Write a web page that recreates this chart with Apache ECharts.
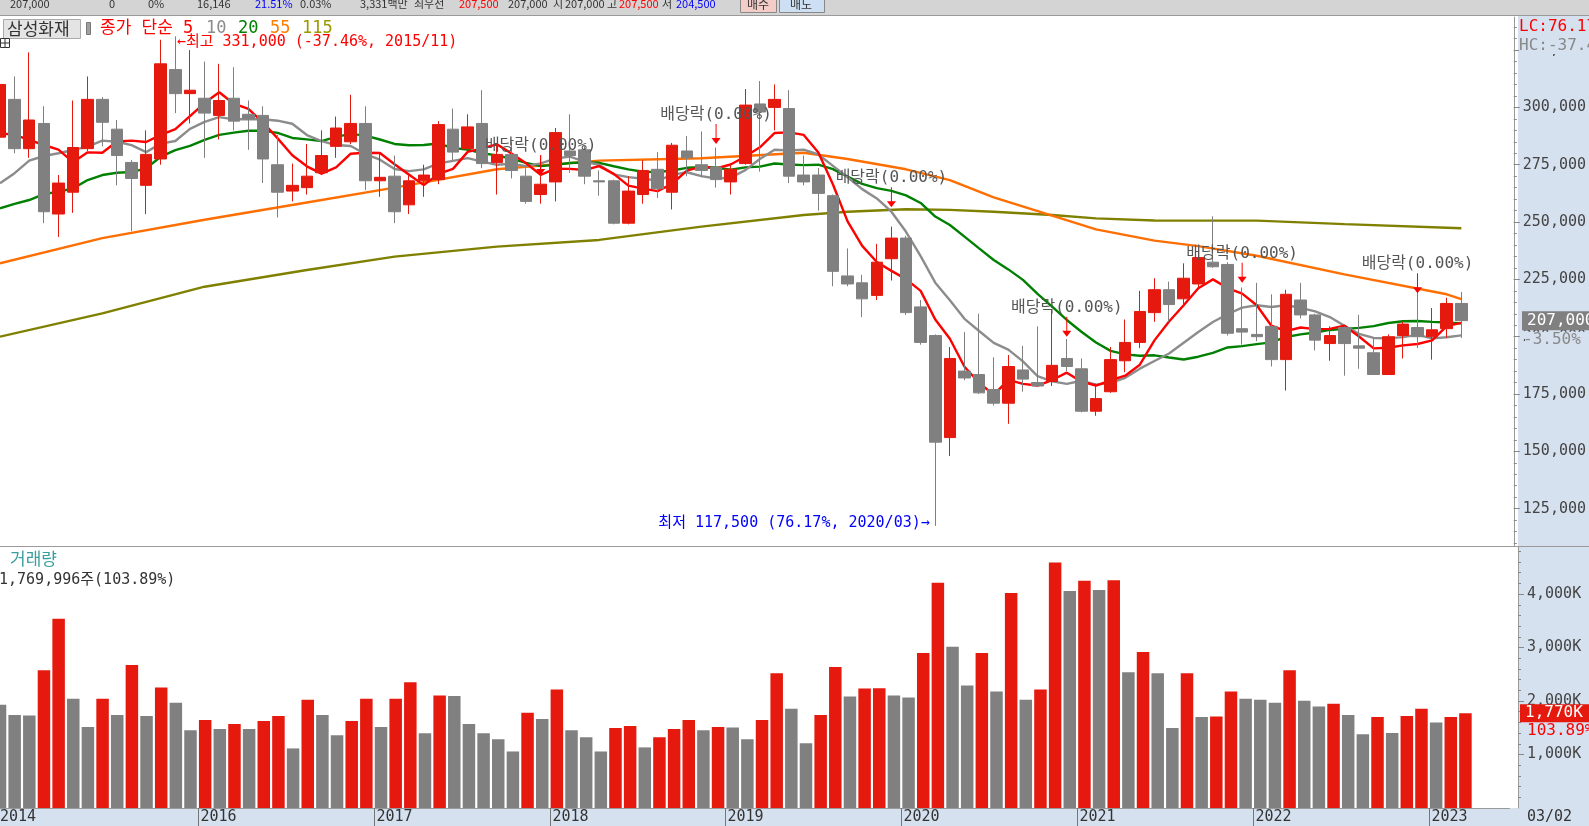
<!DOCTYPE html>
<html>
<head>
<meta charset="utf-8">
<title>삼성화재 월봉</title>
<script src="https://cdn.jsdelivr.net/npm/echarts@6/dist/echarts.min.js"></script>
<style>
  html, body { margin: 0; padding: 0; background: #fff; }
  #main { width: 1589px; height: 826px; }
</style>
</head>
<body>
<div id="main"></div>
<script>
// 월봉 2014/11 ~ 2023/03
const startYear = 2014, startMonth = 11;

const opens = [287000,303500,282000,293000,253500,263000,282000,303500,290500,276000,
  266000,277500,316500,306000,304000,296500,304000,297000,296500,275000,
  263500,265000,271500,283000,285000,293000,268000,270000,257500,268000,
  268500,290500,282000,293000,276000,279500,270000,262000,267500,281000,
  281500,268000,268000,249500,262000,273000,263000,281000,275000,274000,
  267500,275500,301500,300000,299500,270500,270500,261500,226500,223500,
  218000,234000,243000,213000,200500,156000,185000,183500,177000,171000,
  185500,180000,180500,190500,186000,167500,176000,189500,197500,210500,
  220500,216500,223000,232500,231500,203500,201000,204500,190000,216000,
  209500,197000,204000,196000,193000,183500,200500,204000,200000,203500,
  214500];
const closes = [310000,282000,294500,254500,267000,282500,303500,293500,279000,269000,
  279500,319000,306000,307500,297500,303000,294000,295000,277500,263000,
  266000,270000,279000,291000,293000,268000,269500,254500,268000,270500,
  292500,280500,291500,275500,279500,272500,259000,266500,289000,279000,
  270000,267500,249500,263500,272500,264500,283500,278000,272500,268500,
  273000,301000,298000,303500,270000,267500,262500,228500,223000,216500,
  232500,243000,210500,197500,154000,190500,182000,175500,171000,187000,
  181500,178500,187500,187000,167500,173000,190000,197500,211000,220500,
  214000,225500,234500,230500,201500,202000,200000,190000,218500,209500,
  198500,200500,197000,195000,183500,200000,205500,200000,203000,214500,
  207000];
const lows = [284000,280000,278000,249500,243500,254000,281000,283000,266000,246000,
  253500,275000,297500,293000,278000,286000,290000,281500,267000,252000,
  259000,262000,270500,278000,284000,264000,261000,249500,253500,261000,
  266500,277000,281000,273500,262000,269000,258000,258000,259000,271500,
  266500,261500,249000,249000,258000,260500,255500,270000,269500,265000,
  262000,275000,272000,290000,267000,266000,255000,222000,222000,208500,
  216000,224500,209500,196500,117500,148000,181000,175000,170000,162000,
  176000,178000,178500,185000,167000,165500,175500,184500,195000,206500,
  206500,213000,221500,230000,200500,196500,198000,187000,176500,208000,
  194000,189500,183000,186000,183500,183500,190500,195000,190000,199500,
  199500];
const highs = [312000,313500,324000,300500,270500,303000,313500,304500,294500,277000,
  290000,329500,331000,325000,320000,319000,317500,303000,300500,288000,
  275500,284000,290000,296000,305500,300500,280000,279000,270500,275000,
  294000,299500,297000,307500,284500,285000,273500,279000,291000,297000,
  283000,272500,268500,270000,277000,280500,284500,287500,289500,282500,
  275500,308000,311500,310000,307500,279000,273500,262000,238500,227000,
  240500,248000,244000,216000,201000,195500,202000,210000,191000,192000,
  196000,204500,211500,199000,190500,179500,195500,207500,220000,225500,
  224000,232000,238000,252500,232500,221500,223500,218500,220500,223500,
  210000,204500,204500,209500,199000,201000,206500,220500,212500,217000,
  219500];
const volumes = [1931000,1741000,1730000,2577000,3538000,2045000,1513000,2045000,1741000,2672000,
  1722000,2254000,1969000,1456000,1646000,1475000,1570000,1475000,1627000,1722000,
  1114000,2026000,1741000,1361000,1627000,2045000,1513000,2045000,2349000,1399000,
  2102000,2095000,1570000,1399000,1285000,1057000,1779000,1665000,2216000,1456000,
  1323000,1057000,1494000,1532000,1133000,1323000,1475000,1646000,1456000,1513000,
  1505000,1285000,1646000,2520000,1855000,1209000,1741000,2634000,2083000,2235000,
  2240000,2102000,2064000,2900000,4210000,3014000,2292000,2900000,2178000,4020000,
  2026000,2216000,4590000,4058000,4248000,4077000,4260000,2539000,2919000,2520000,
  1494000,2520000,1703000,1710000,2178000,2045000,2026000,1969000,2577000,2007000,
  1900000,1950000,1741000,1380000,1703000,1400000,1720000,1855000,1600000,1703000,
  1769996];

// 화면 왼쪽 끝, 이전 데이터가 없는 구간의 이평값
const ma5Head = [288700,288000,285800,283600];
const ma10Head = [266900,271300,276800,278800,280000,281400,282900,285500,285000];
const ma20Head = [256000,257900,259600,262200,263200,264700,268300,270500,271500,271800,
  273400,278500,281400,283200,285800,288000,289000,289800,289800];
// 55, 115 이평은 차트에서 읽은 값 (봉 번호, 값)
const ma55Idx = [0,7,14,21,27,34,41,48,55,58,62,65,68,72,75,79,82,86,92,99,100];
const ma55Val = [232000,243000,251000,258500,265000,273000,276800,277800,280200,277500,
  273000,268300,260800,252800,246800,241900,239500,235300,227200,218500,216400];
const ma115Idx = [0,7,14,21,27,34,41,48,55,58,62,65,68,72,75,79,86,92,100];
const ma115Val = [200000,210200,221800,229100,234900,239300,242200,248000,253100,254500,
  255600,255300,254500,253100,251600,250700,250600,249100,247300];

const priceLabels = [125000,150000,175000,200000,225000,250000,275000,300000,325000];
const volLabels = [1000000,2000000,3000000,4000000];
const exDivIdx = [37,49,61,73,85,97];
const exDivTip = [270500,284000,256500,200000,223500,219000];

const FONT = '"Noto Sans CJK KR", "Noto Sans", sans-serif';
const MONO = '"DejaVu Sans Mono", "Noto Sans CJK KR", monospace';
const RED = '#e5190e', GRAY = '#808080', PANEL = '#d6e1f0';
const PRICE_MIN = 108720, PRICE_MAX = 339420, VOL_MAX = 4880000;

const months = closes.map((_, i) => {
  const k = startMonth - 1 + i;
  return (startYear + Math.floor(k / 12)) + '/' + String(k % 12 + 1).padStart(2, '0');
});
const categories = months.concat([' ', '  ', '   ']);

function sma(n, head) {
  return closes.map((c, i) => {
    if (i < n - 1) return head[i];
    let s = 0;
    for (let k = i - n + 1; k <= i; k++) s += closes[k];
    return Math.round(s / n);
  });
}
const fmt = v => Number(v).toLocaleString('en-US');

const minorPrice = [];
for (let v = 110000; v <= 335000; v += 5000) minorPrice.push(v);
const minorVol = [];
for (let v = 200000; v <= 4800000; v += 200000) minorVol.push(v);

const candleData = closes.map((c, i) => [opens[i], c, lows[i], highs[i]]);
const volData = volumes.map((v, i) => ({
  value: v,
  itemStyle: { color: i > 0 && v > volumes[i - 1] ? RED : GRAY }
}));

const ARROW = 'path://M4,0L5,0L5,14L9,14L4.5,20L0,14L4,14Z';
const markData = exDivIdx.map((x, k) => ({
  coord: [months[x], exDivTip[k]],
  symbol: ARROW, symbolSize: [9, 20], symbolOffset: [0, '-50%'],
  itemStyle: { color: '#ff0000' },
  label: { show: true, position: 'top', distance: 1, formatter: '배당락(0.00%)',
    color: '#555', fontSize: 16, fontFamily: MONO }
}));
markData.push({
  coord: [months[12], 331000], symbol: 'rect', symbolSize: 1,
  itemStyle: { color: 'rgba(0,0,0,0)' },
  label: { show: true, position: 'right', distance: 1, offset: [0, 6],
    formatter: '←최고 331,000 (-37.46%, 2015/11)', color: '#ff0000', fontSize: 15, fontFamily: MONO }
});
markData.push({
  coord: [months[64], 117500], symbol: 'rect', symbolSize: 1,
  itemStyle: { color: 'rgba(0,0,0,0)' },
  label: { show: true, position: 'left', distance: 5, offset: [0, -3],
    formatter: '최저 117,500 (76.17%, 2020/03)→', color: '#0000ff', fontSize: 15, fontFamily: MONO }
});

function text(id, x, y, str, fill, size, family) {
  return { type: 'text', id: id, x: x, y: y, z: 100, silent: true,
    style: { text: str, fill: fill, font: size + 'px ' + (family || FONT),
      textVerticalAlign: 'middle', verticalAlign: 'middle' } };
}
function rect(id, x, y, w, h, fill, stroke, z) {
  return { type: 'rect', id: id, z: z === undefined ? 99 : z, silent: true,
    shape: { x: x, y: y, width: w, height: h },
    style: { fill: fill, stroke: stroke || null, lineWidth: 1 } };
}

const graphics = [
  rect('bgRight', 1518, 16, 71, 810, PANEL, null, -1),
  rect('bgBottom', 0, 808, 1518, 18, PANEL, null, -1),
  rect('topBar', 0, 0, 1589, 16, '#d4d4d4', null, 98),
  rect('topLine', 0, 15, 1589, 1, '#9a9a9a', null, 99),
  rect('sep', 0, 546, 1589, 1, '#9a9a9a', null, 99),
  rect('btnBuy', 740.5, -2.5, 36, 15, '#f4cdc9', '#888'),
  rect('btnSell', 779.5, -2.5, 45, 15, '#cddff2', '#888'),
  text('t1', 10, 4, '207,000', '#333', 11),
  text('t2', 109, 4, '0', '#333', 11),
  text('t3', 148, 4, '0%', '#333', 11),
  text('t4', 197, 4, '16,146', '#333', 11),
  text('t5', 255, 4, '21.51%', '#0000ff', 11),
  text('t6', 300, 4, '0.03%', '#333', 11),
  text('t7', 360, 4, '3,331백만', '#333', 11),
  text('t8', 414, 4, '최우선', '#333', 11),
  text('t9', 459, 4, '207,500', '#ff0000', 11),
  text('t10', 508, 4, '207,000', '#333', 11),
  text('t11', 553, 4, '시', '#333', 11),
  text('t12', 565, 4, '207,000', '#333', 11),
  text('t13', 607, 4, '고', '#333', 11),
  text('t14', 619, 4, '207,500', '#ff0000', 11),
  text('t15', 662, 4, '저', '#333', 11),
  text('t16', 676, 4, '204,500', '#0000ff', 11),
  text('t17', 747, 4, '매수', '#333', 12),
  text('t18', 790, 4, '매도', '#333', 12),
  // 범례
  rect('nameBox', 3.5, 19.5, 77, 19, '#e4e4e4', '#aaa'),
  text('name', 7, 29, '삼성화재', '#333', 17),
  rect('nameIcon', 86.5, 22.5, 4, 12, '#a0a0a0', '#777'),
  text('lg0', 100, 28.5, '종가 단순 5', '#ff0000', 17, MONO),
  text('lg2', 206, 28.5, '10', '#8c8c8c', 17, MONO),
  text('lg3', 238, 28.5, '20', '#008000', 17, MONO),
  text('lg4', 270, 28.5, '55', '#ff8000', 17, MONO),
  text('lg5', 302, 28.5, '115', '#999900', 17, MONO),
  rect('gridIcon', 0.5, 38.5, 9, 9, '#fff', '#333'),
  rect('gridIconH', 0.5, 42.5, 9, 1, '#333'),
  rect('gridIconV', 4.5, 38.5, 1, 9, '#333'),
  text('vt', 10, 561, '거래량', '#3a9e9e', 17, MONO),
  text('vv', -1, 580, '1,769,996주(103.89%)', '#333', 15, MONO),
  // 오른쪽 축 위 표시
  text('lc', 1519, 27, 'LC:76.17', '#ff0000', 16, MONO),
  rect('hcBg', 1519, 37, 70, 17, PANEL, null, 99),
  text('hc', 1519, 46, 'HC:-37.4', '#888', 16, MONO),
  text('date', 1527, 817, '03/02', '#333', 15, MONO)
];

const yAxisLabel = { margin: 9, fontSize: 15, color: '#444', fontFamily: MONO };
const AXIS_OFFSET = 8.6;

const option = {
  animation: false,
  backgroundColor: '#fff',
  textStyle: { fontFamily: FONT },
  grid: [
    { left: 0, top: 17, width: 1509.4, height: 529 },
    { left: 0, top: 547, width: 1509.4, height: 261 }
  ],
  xAxis: [
    { type: 'category', gridIndex: 0, data: categories, boundaryGap: false, show: false },
    { type: 'category', gridIndex: 1, data: categories, boundaryGap: false,
      axisLine: { lineStyle: { color: '#999' } },
      axisTick: { show: false }, axisLabel: { show: false }, splitLine: { show: false } }
  ],
  yAxis: [
    { type: 'value', gridIndex: 0, position: 'right', offset: AXIS_OFFSET, min: PRICE_MIN, max: PRICE_MAX,
      axisLine: { show: true, lineStyle: { color: '#999' } },
      axisTick: { show: true, length: 6, customValues: priceLabels, lineStyle: { color: '#888' } },
      axisLabel: Object.assign({ customValues: priceLabels, formatter: fmt }, yAxisLabel),
      splitLine: { show: false } },
    { type: 'value', gridIndex: 0, position: 'right', offset: AXIS_OFFSET, min: PRICE_MIN, max: PRICE_MAX,
      axisLine: { show: false },
      axisTick: { show: true, length: 3, customValues: minorPrice, lineStyle: { color: '#888' } },
      axisLabel: { show: false }, splitLine: { show: false } },
    { type: 'value', gridIndex: 1, position: 'right', offset: AXIS_OFFSET, min: 0, max: VOL_MAX,
      axisLine: { show: true, lineStyle: { color: '#999' } },
      axisTick: { show: true, length: 6, customValues: volLabels, lineStyle: { color: '#888' } },
      axisLabel: Object.assign({ customValues: volLabels, formatter: v => fmt(v / 1000) + 'K' }, yAxisLabel),
      splitLine: { show: false } },
    { type: 'value', gridIndex: 1, position: 'right', offset: AXIS_OFFSET, min: 0, max: VOL_MAX,
      axisLine: { show: false },
      axisTick: { show: true, length: 3, customValues: minorVol, lineStyle: { color: '#888' } },
      axisLabel: { show: false }, splitLine: { show: false } }
  ],
  series: [
    { name: 'MA115', type: 'line', xAxisIndex: 0, yAxisIndex: 0, z: 1, showSymbol: false,
      data: ma115Idx.map((x, k) => [x, ma115Val[k]]), lineStyle: { color: '#808000', width: 2.4 } },
    { name: 'MA55', type: 'line', xAxisIndex: 0, yAxisIndex: 0, z: 1, showSymbol: false,
      data: ma55Idx.map((x, k) => [x, ma55Val[k]]), lineStyle: { color: '#ff6e00', width: 2.4 } },
    { name: 'MA20', type: 'line', xAxisIndex: 0, yAxisIndex: 0, z: 1, showSymbol: false,
      data: sma(20, ma20Head), lineStyle: { color: '#008000', width: 2.4 } },
    { name: 'MA10', type: 'line', xAxisIndex: 0, yAxisIndex: 0, z: 1, showSymbol: false,
      data: sma(10, ma10Head), lineStyle: { color: '#8c8c8c', width: 2.4 } },
    { name: 'MA5', type: 'line', xAxisIndex: 0, yAxisIndex: 0, z: 1, showSymbol: false,
      data: sma(5, ma5Head), lineStyle: { color: '#ff0000', width: 2.4 } },
    { name: '가격', type: 'candlestick', xAxisIndex: 0, yAxisIndex: 0, z: 3,
      barWidth: 12, data: candleData,
      itemStyle: { color: RED, color0: GRAY, borderColor: RED, borderColor0: GRAY, borderWidth: 1 },
      markPoint: { silent: true, animation: false, data: markData } },
    { name: '거래량', type: 'bar', xAxisIndex: 1, yAxisIndex: 2, barWidth: 12.5, data: volData }
  ],
  graphic: graphics
};

const chart = echarts.init(document.getElementById('main'));
chart.setOption(option);

// 날짜축: 1월 봉 경계에 눈금과 연도 (축 좌표로 계산)
const xa = i => chart.convertToPixel({ xAxisIndex: 1 }, categories[i]);
const slotW = xa(1) - xa(0);
graphics.push(text('xl0', 0, 817, months[0].slice(0, 4), '#333', 15, MONO));
months.forEach((m, i) => {
  if (i > 2 && m.endsWith('/01')) {
    const bx = Math.round(xa(i) - slotW / 2) + 0.5;
    graphics.push({ type: 'line', id: 'xt' + i, z: 101, silent: true,
      shape: { x1: bx, y1: 808, x2: bx, y2: 826 }, style: { stroke: '#777', lineWidth: 1 } });
    graphics.push(text('xl' + i, bx + 2, 817, m.slice(0, 4), '#333', 15, MONO));
  }
});

// 마지막 값 표시
const lastClose = closes[closes.length - 1];
const lastVol = volumes[volumes.length - 1];
const yPrice = chart.convertToPixel({ yAxisIndex: 0 }, lastClose);
const yVol = chart.convertToPixel({ yAxisIndex: 2 }, lastVol);
graphics.push(
  rect('pBadge', 1522, yPrice - 9.5, 67, 19, GRAY, null, 100),
  text('pBadgeT', 1527, yPrice, fmt(lastClose), '#fff', 16, MONO),
  rect('pPctBg', 1525, yPrice + 11, 64, 16, PANEL, null, 100),
  text('pPct', 1523, yPrice + 19, '-3.50%', '#888', 16, MONO),
  rect('vBadge', 1520, yVol - 9, 69, 18, RED, null, 100),
  text('vBadgeT', 1525, yVol, fmt(Math.round(lastVol / 1000)) + 'K', '#fff', 16, MONO),
  rect('vPctBg', 1525, yVol + 10, 64, 17, PANEL, null, 100),
  text('vPct', 1527, yVol + 18, '103.89%', '#ff0000', 16, MONO)
);
graphics.forEach(g => { if (g.type === 'text') g.z = 102; else if (g.z === 100) g.z = 101; });
chart.setOption(option, true);
</script>
</body>
</html>
